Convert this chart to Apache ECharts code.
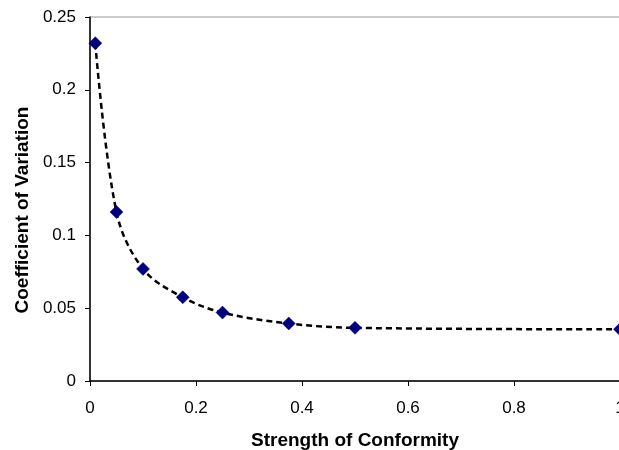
<!DOCTYPE html>
<html>
<head>
<meta charset="utf-8">
<script src="https://cdn.jsdelivr.net/npm/echarts@6/dist/echarts.min.js"></script>
<style>
html,body{margin:0;padding:0;background:#fff;}
#chart{width:619px;height:450px;}
</style>
</head>
<body>
<div id="chart"></div>
<script>
var strength = [0.01, 0.05, 0.1, 0.175, 0.25, 0.375, 0.5, 1.0];
var coefVar = [0.232, 0.116, 0.077, 0.0575, 0.047, 0.0395, 0.0365, 0.0355];
var xTitle = 'Strength of Conformity';
var yTitle = 'Coefficient of Variation';

var pts = strength.map(function (x, i) { return [x, coefVar[i]]; });

var chart = echarts.init(document.getElementById('chart'), null, {renderer: 'canvas'});
var font = '"Liberation Sans", Arial, sans-serif';
chart.setOption({
  animation: false,
  backgroundColor: '#ffffff',
  grid: {
    left: 90, top: 17, width: 530, height: 364,
    outerBoundsMode: 'none', containLabel: false,
    show: true, borderColor: '#999999', borderWidth: 1, backgroundColor: 'transparent'
  },
  xAxis: {
    type: 'value', min: 0, max: 1, interval: 0.2,
    name: xTitle, nameLocation: 'middle', nameGap: 50,
    nameTextStyle: {fontFamily: font, fontWeight: 'bold', fontSize: 19, color: '#000'},
    axisLine: {show: true, onZero: false, lineStyle: {color: '#000', width: 1.5}},
    axisTick: {show: true, inside: false, length: 5, lineStyle: {color: '#000'}},
    axisLabel: {fontFamily: font, fontSize: 17, color: '#000', margin: 19, showMaxLabel: true, hideOverlap: false},
    splitLine: {show: false}
  },
  yAxis: {
    type: 'value', min: 0, max: 0.25, interval: 0.05,
    name: yTitle, nameLocation: 'middle', nameGap: 58, nameRotate: 90,
    nameTextStyle: {fontFamily: font, fontWeight: 'bold', fontSize: 19, color: '#000', padding: [0, 22, 0, 0]},
    axisLine: {show: true, onZero: false, lineStyle: {color: '#000', width: 1.5}},
    axisTick: {show: true, inside: false, length: 5, lineStyle: {color: '#000'}},
    axisLabel: {fontFamily: font, fontSize: 17, color: '#000', margin: 14},
    splitLine: {show: false}
  },
  series: [
    {
      type: 'line', data: pts, smooth: 0.35,
      showSymbol: false, symbol: 'none',
      lineStyle: {color: '#000', width: 2.5, type: [6, 4]},
      z: 2, silent: true
    },
    {
      type: 'scatter', data: pts, symbol: 'diamond', symbolSize: 13,
      itemStyle: {color: '#000080', opacity: 1, borderColor: '#000066', borderWidth: 0.5},
      z: 3
    }
  ]
});
</script>
</body>
</html>
